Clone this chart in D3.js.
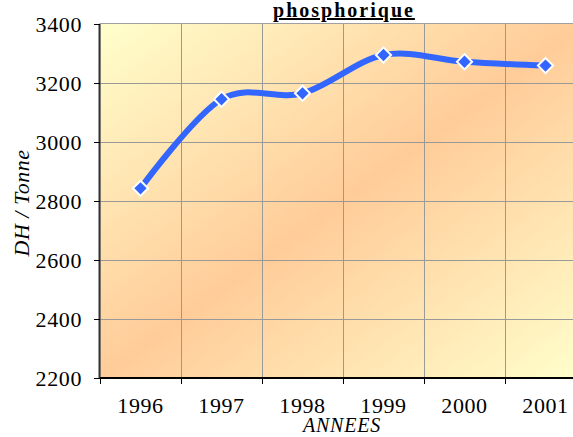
<!DOCTYPE html>
<html>
<head>
<meta charset="utf-8">
<script src="https://cdn.jsdelivr.net/npm/d3@7"></script>
<style>
  html, body { margin: 0; padding: 0; background: #fff; }
  svg { display: block; }
</style>
</head>
<body>
<svg id="chart" width="573" height="437"></svg>
<script>
// Prix de l'acide phosphorique (DH / Tonne), par année
const years = ["1996", "1997", "1998", "1999", "2000", "2001"];
const prices = [2843, 3145, 3165, 3295, 3272, 3259];
const yTicks = [2200, 2400, 2600, 2800, 3000, 3200, 3400];
const titleText = "phosphorique";
const xTitle = "ANNEES";
const yTitle = "DH / Tonne";

const svg = d3.select("#chart");
const margin = { left: 100, top: 24, bottom: 378 };
const bandW = 81;
const plotRight = margin.left + bandW * years.length;

const x = d3.scaleBand().domain(years).range([margin.left, plotRight]);
const y = d3.scaleLinear().domain([2200, 3400]).range([margin.bottom, margin.top]);

// Plot area background: diagonal yellow → orange → yellow
const defs = svg.append("defs");
const grad = defs.append("linearGradient")
  .attr("id", "bg")
  .attr("x1", 0).attr("y1", 0)
  .attr("x2", 1).attr("y2", 1);
grad.append("stop").attr("offset", "0%").attr("stop-color", "#ffffcc");
grad.append("stop").attr("offset", "50%").attr("stop-color", "#ffcc99");
grad.append("stop").attr("offset", "100%").attr("stop-color", "#ffffcc");

svg.append("rect")
  .attr("x", margin.left).attr("y", margin.top - 0.5)
  .attr("width", plotRight - margin.left)
  .attr("height", margin.bottom - margin.top + 0.5)
  .attr("fill", "url(#bg)")
  .attr("stroke", "#a0a0a0").attr("stroke-width", 1);

// Gridlines
const grid = svg.append("g").attr("stroke", "#999").attr("stroke-width", 1);
grid.selectAll("line.h").data(yTicks.slice(1, -1)).join("line")
  .attr("x1", margin.left).attr("x2", plotRight)
  .attr("y1", d => Math.round(y(d)) + 0.5).attr("y2", d => Math.round(y(d)) + 0.5);
grid.selectAll("line.v").data(years).join("line")
  .attr("x1", d => Math.round(x(d) + bandW) + 0.5).attr("x2", d => Math.round(x(d) + bandW) + 0.5)
  .attr("y1", margin.top).attr("y2", margin.bottom);

// Axes
const font = "Liberation Serif";
const yAxis = svg.append("g")
  .attr("transform", `translate(${margin.left},0)`)
  .call(d3.axisLeft(y).tickValues(yTicks).tickSize(6).tickPadding(12).tickFormat(d3.format("d")));
const xAxis = svg.append("g")
  .attr("transform", `translate(0,${margin.bottom})`)
  .call(d3.axisBottom(x).tickSize(0));
xAxis.selectAll(".tick text").attr("y", 35).attr("dy", 0);
// x tick marks sit on band boundaries
xAxis.selectAll(".bound").data([margin.left, ...years.map(d => x(d) + bandW)]).join("line")
  .attr("class", "bound")
  .attr("x1", d => Math.round(d) + 0.5).attr("x2", d => Math.round(d) + 0.5)
  .attr("y1", 0).attr("y2", 6).attr("stroke", "#000").attr("stroke-width", 1);

[yAxis, xAxis].forEach(g => {
  g.attr("font-family", font);
  g.select(".domain").attr("stroke", "#000").attr("stroke-width", 2);
  g.selectAll(".tick line").attr("stroke", "#000");
  g.selectAll("text").attr("font-family", font).attr("font-size", 22)
    .attr("letter-spacing", 0.6).attr("fill", "#000");
});
yAxis.select(".domain").attr("d", `M-0.5,${margin.top}V${margin.bottom}`).attr("stroke", "#333");
xAxis.select(".domain").attr("d", `M${margin.left},0H${plotRight}`);

// Smoothed line
const line = d3.line()
  .x(d => x(d.year) + bandW / 2)
  .y(d => y(d.value))
  .curve(d3.curveCatmullRom.alpha(0));
const pts = years.map((yr, i) => ({ year: yr, value: prices[i] }));

svg.append("path")
  .datum(pts)
  .attr("d", line)
  .attr("fill", "none")
  .attr("stroke", "#3366ff")
  .attr("stroke-width", 6)
  .attr("stroke-linejoin", "round");

// Diamond markers
svg.selectAll("path.mk").data(pts).join("path")
  .attr("class", "mk")
  .attr("d", d3.symbol(d3.symbolSquare, 115))
  .attr("transform", d => `translate(${x(d.year) + bandW / 2},${y(d.value)}) rotate(45)`)
  .attr("fill", "#3366ff")
  .attr("stroke", "#fff")
  .attr("stroke-width", 2);

// Titles
svg.append("text")
  .attr("x", 344).attr("y", 17)
  .attr("text-anchor", "middle")
  .attr("font-family", font).attr("font-weight", "bold").attr("font-size", 20)
  .attr("letter-spacing", 2)
  .attr("text-decoration", "underline")
  .text(titleText);

svg.append("text")
  .attr("x", 342).attr("y", 432)
  .attr("text-anchor", "middle")
  .attr("font-family", font).attr("font-style", "italic").attr("font-size", 20)
  .attr("letter-spacing", 0.8)
  .text(xTitle);

svg.append("text")
  .attr("transform", "translate(29,203) rotate(-90)")
  .attr("text-anchor", "middle")
  .attr("font-family", font).attr("font-style", "italic").attr("font-size", 22)
  .attr("letter-spacing", 0.5)
  .text(yTitle);
</script>
</body>
</html>
